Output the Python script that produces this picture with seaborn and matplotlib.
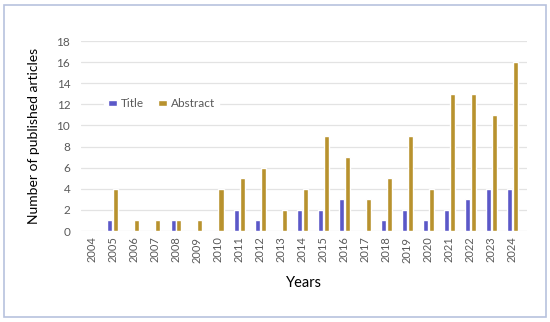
import pandas as pd
import seaborn as sns
import matplotlib.pyplot as plt
from matplotlib.patches import Rectangle

# Data
years = [str(y) for y in range(2004, 2025)]
title_counts = [0, 1, 0, 0, 1, 0, 0, 2, 1, 0, 2, 2, 3, 0, 1, 2, 1, 2, 3, 4, 4]
abstract_counts = [0, 4, 1, 1, 1, 1, 4, 5, 6, 2, 4, 9, 7, 3, 5, 9, 4, 13, 13, 11, 16]

df = pd.DataFrame({
    "Year": years * 2,
    "Count": title_counts + abstract_counts,
    "Type": ["Title"] * len(years) + ["Abstract"] * len(years),
})

sns.set_style("white")
plt.rcParams['font.family'] = ['Lato', 'DejaVu Sans']

fig = plt.figure(figsize=(5.5, 3.22), dpi=100)
ax = fig.add_axes([0.148, 0.2826, 0.810, 0.590])

# light border round the whole figure
fig.patches.append(Rectangle((0.008, 0.015), 0.984, 0.968, transform=fig.transFigure,
                             fill=False, edgecolor="#B8C2DE", linewidth=1.2))

sns.barplot(data=df, x="Year", y="Count", hue="Type", ax=ax,
            palette={"Title": "#5B58C8", "Abstract": "#B8922E"},
            width=0.56, gap=0.15, saturation=1)

ax.set_xlim(-0.5, 20.69)
ax.set_ylim(0, 18)
ax.set_yticks(range(0, 19, 2))
ax.yaxis.grid(True, color="#E3E3E3", linewidth=0.9)
ax.set_axisbelow(True)
for s in ax.spines.values():
    s.set_visible(False)
ax.tick_params(axis="x", rotation=90, labelsize=8, labelcolor="#595959", length=0, pad=4)
ax.tick_params(axis="y", labelsize=8.5, labelcolor="#595959", length=0, pad=8)

ax.set_xlabel("Years", fontsize=10.5, color="black", labelpad=10)
ax.set_ylabel("Number of published articles", fontsize=10, color="black", labelpad=12)

leg = ax.legend(loc="center", bbox_to_anchor=(0.18, 0.67), ncol=2, frameon=True,
                fontsize=8.5, handlelength=0.75, handleheight=0.5, columnspacing=1.2,
                handletextpad=0.35, borderpad=0.3)
leg.get_frame().set_edgecolor("white")
leg.get_frame().set_facecolor("white")
leg.get_frame().set_alpha(1)
for t in leg.get_texts():
    t.set_color("#595959")

fig.savefig("out.png", dpi=100)
